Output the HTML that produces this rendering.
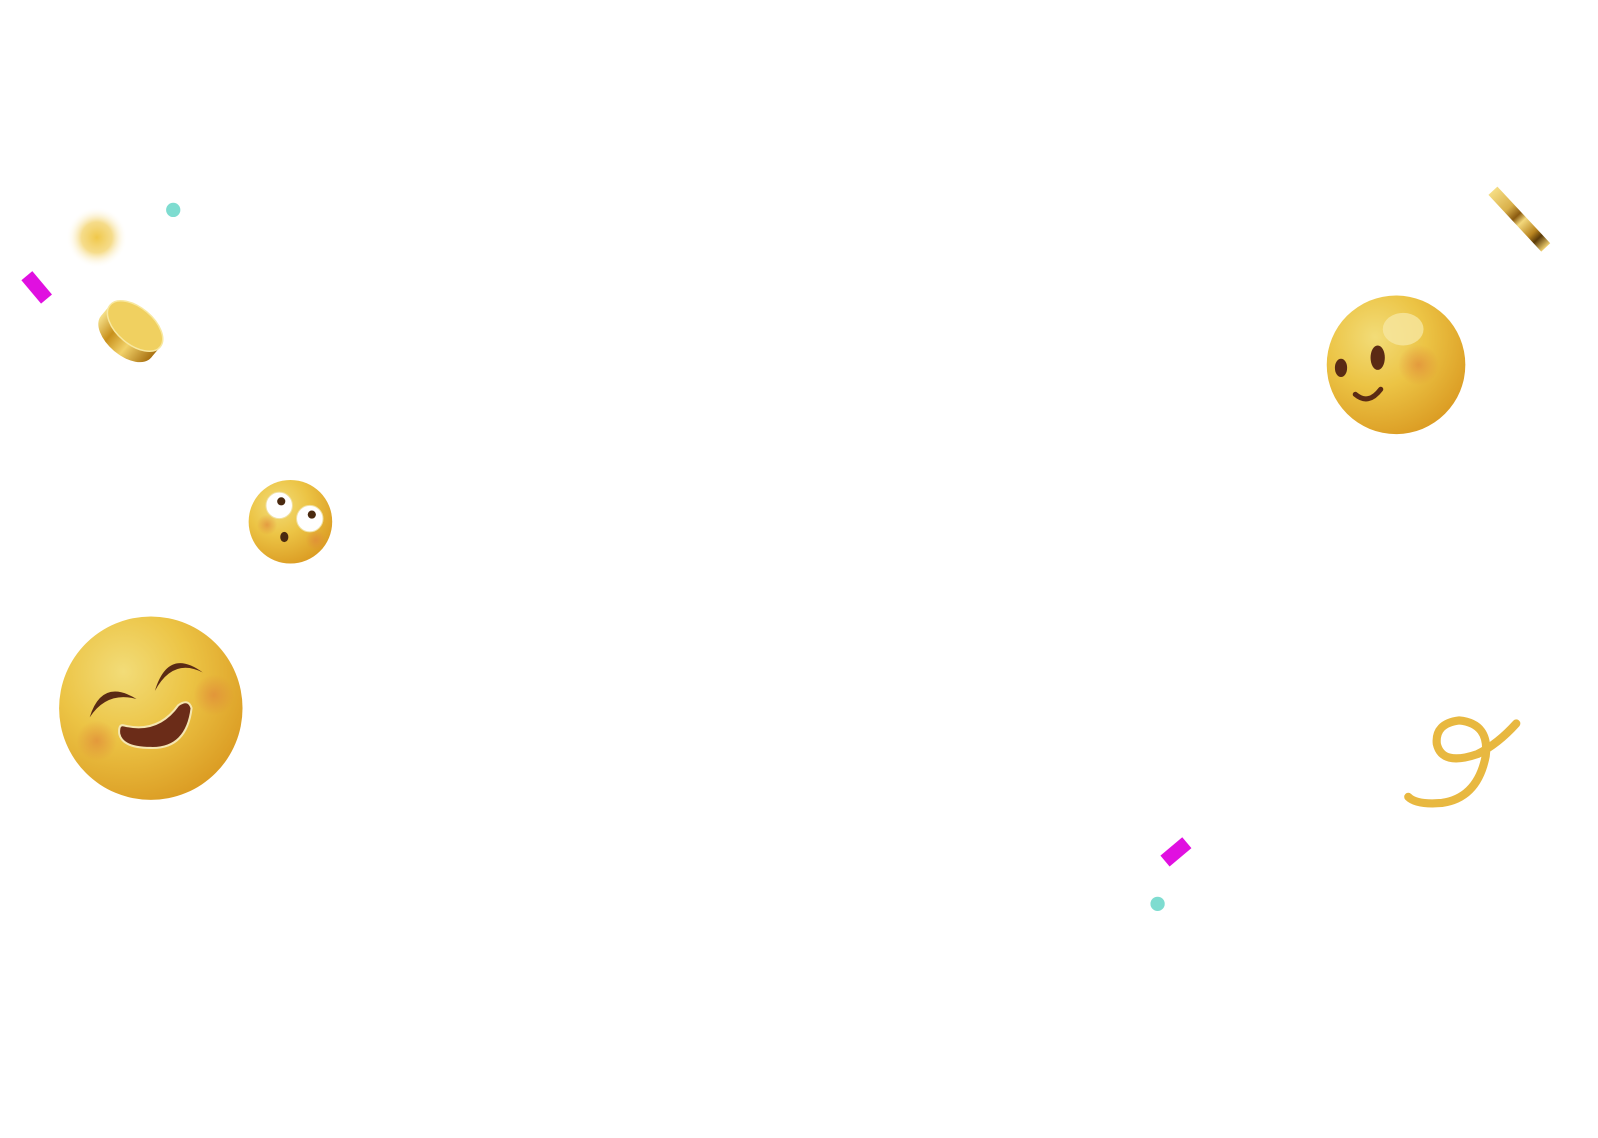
<!DOCTYPE html>
<html><head><meta charset="utf-8"><style>
html,body{margin:0;padding:0;background:#fff;}
svg{display:block;}
</style></head><body>
<svg width="1598" height="1138" viewBox="0 0 1598 1138" xmlns="http://www.w3.org/2000/svg">
<defs>
<radialGradient id="face" cx="0.35" cy="0.3" r="0.8">
<stop offset="0" stop-color="#f2dc78"/><stop offset="0.45" stop-color="#ecc445"/><stop offset="1" stop-color="#d9971f"/>
</radialGradient>
<radialGradient id="blush" cx="0.5" cy="0.5" r="0.5">
<stop offset="0" stop-color="#e0893a" stop-opacity="0.7"/><stop offset="1" stop-color="#e0893a" stop-opacity="0"/>
</radialGradient>
<radialGradient id="glow" cx="0.5" cy="0.5" r="0.5">
<stop offset="0" stop-color="#f0c84a"/><stop offset="0.5" stop-color="#f3d36d" stop-opacity="0.8"/><stop offset="1" stop-color="#fff" stop-opacity="0"/>
</radialGradient>
<linearGradient id="gold" x1="0" y1="0" x2="1" y2="0">
<stop offset="0" stop-color="#f5e08a"/><stop offset="0.3" stop-color="#c8901c"/><stop offset="0.6" stop-color="#f2d26a"/><stop offset="1" stop-color="#a87010"/>
</linearGradient>
<linearGradient id="stick" x1="0" y1="0" x2="1" y2="0">
<stop offset="0" stop-color="#f5dd84"/><stop offset="0.3" stop-color="#d9b04a"/><stop offset="0.45" stop-color="#8a5a10"/><stop offset="0.55" stop-color="#f3d87c"/><stop offset="0.75" stop-color="#b88420"/><stop offset="0.85" stop-color="#5a3a08"/><stop offset="1" stop-color="#f0d070"/>
</linearGradient>
</defs>
<g transform="scale(1.019)">
<circle cx="95" cy="233" r="30" fill="url(#glow)"/>
<circle cx="170" cy="206" r="7" fill="#7edcd0"/>
<rect x="-7" y="-15" width="14" height="30" fill="#e010e0" transform="translate(36 282) rotate(-40)"/>

<g transform="translate(130 323) rotate(40)">
<rect x="-32" y="-4" width="64" height="14" fill="url(#gold)"/>
<ellipse cx="0" cy="10" rx="32" ry="18" fill="url(#gold)"/>
<ellipse cx="0" cy="-4" rx="32" ry="18" fill="#f0d060" stroke="#f8e8a0" stroke-width="1.5"/>
</g>

<circle cx="285" cy="512" r="41" fill="url(#face)"/>
<circle cx="262" cy="515" r="10" fill="url(#blush)"/>
<circle cx="310" cy="530" r="10" fill="url(#blush)"/>
<circle cx="274" cy="496" r="13" fill="#fff" stroke="#f0e0a0"/>
<circle cx="276" cy="492" r="4" fill="#4a2a10"/>
<circle cx="304" cy="509" r="13" fill="#fff" stroke="#f0e0a0"/>
<circle cx="306" cy="505" r="4" fill="#4a2a10"/>
<ellipse cx="279" cy="527" rx="4" ry="5" fill="#4a2a10"/>

<circle cx="148" cy="695" r="90" fill="url(#face)"/>
<circle cx="95" cy="727" r="20" fill="url(#blush)"/>
<circle cx="210" cy="682" r="20" fill="url(#blush)"/>
<path d="M88 704 Q100 665 134 686 Q105 678 88 704Z" fill="#5a2a14"/>
<path d="M152 678 Q165 635 199 660 Q170 645 152 678Z" fill="#5a2a14"/>
<path d="M122 712 Q155 720 175 692 Q185 685 188 695 Q183 735 148 734 Q120 734 117 720 Q116 710 122 712Z" fill="#6b2c18" stroke="#f5e6b0" stroke-width="2"/>

<circle cx="1370" cy="358" r="68" fill="url(#face)"/>
<ellipse cx="1377" cy="323" rx="20" ry="16" fill="#f6e6a0" opacity="0.8"/>
<circle cx="1392" cy="358" r="20" fill="url(#blush)"/>
<ellipse cx="1316" cy="361" rx="6" ry="9" fill="#5a2a14"/>
<ellipse cx="1352" cy="351" rx="7" ry="12" fill="#5a2a14"/>
<path d="M1330 387 Q1343 398 1355 382" stroke="#5a2a14" stroke-width="5" fill="none" stroke-linecap="round"/>

<g transform="translate(1491 215) rotate(47)">
<rect x="-38" y="-6" width="76" height="12" fill="url(#stick)"/>
</g>

<path d="M1382 782 Q1390 790 1415 788 Q1450 783 1458 742 Q1462 710 1432 707 Q1408 710 1410 730 Q1415 752 1450 740 Q1470 730 1488 710" stroke="#e8b840" stroke-width="8" fill="none" stroke-linecap="round"/>

<rect x="-14" y="-7" width="28" height="14" fill="#e010e0" transform="translate(1154 836) rotate(-40)"/>
<circle cx="1136" cy="887" r="7" fill="#7edcd0"/>
</g>
</svg>
</body></html>
